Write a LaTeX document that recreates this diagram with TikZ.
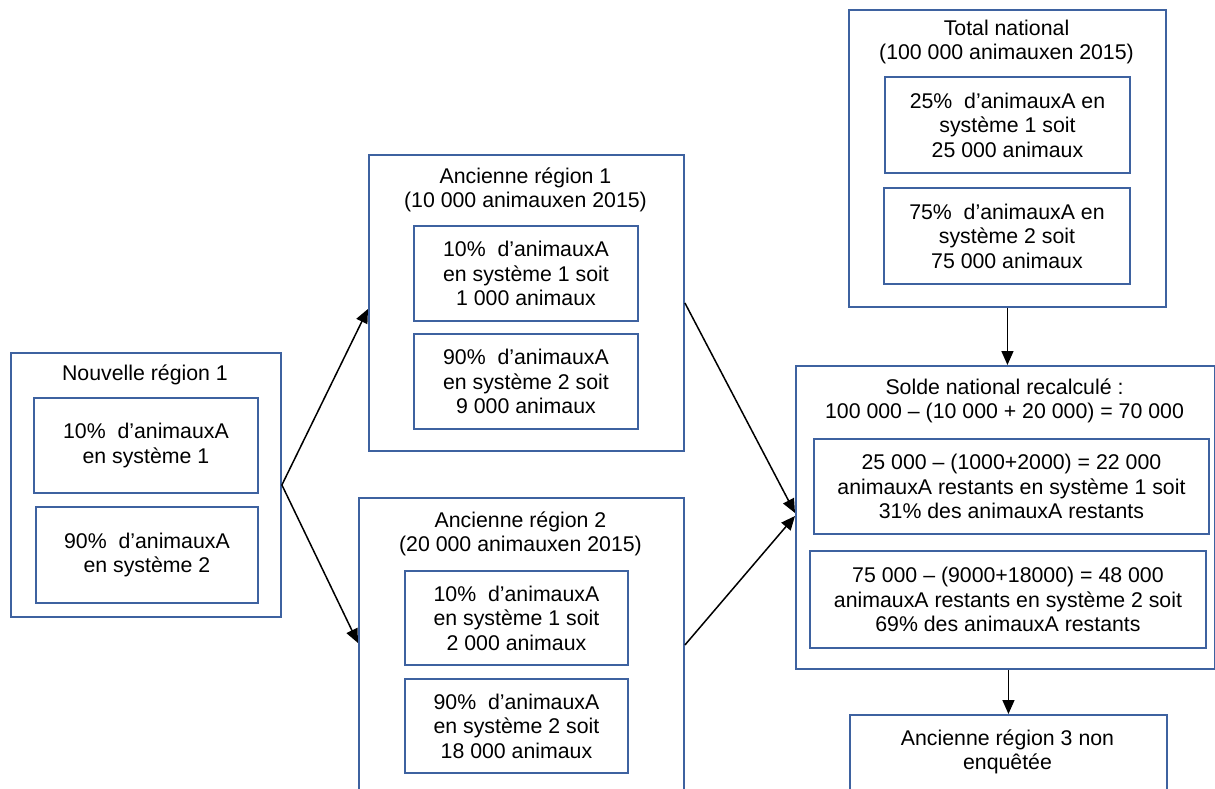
\documentclass[tikz,border=0pt]{standalone}
\usepackage{fontspec}
\setmainfont{Liberation Sans}
\usetikzlibrary{arrows.meta}
\definecolor{boxblue}{RGB}{62,98,160}
\tikzset{
  box/.style={draw=boxblue, line width=1.9pt, rectangle, anchor=north west, inner sep=0pt},
  txt/.style={align=center, inner sep=0pt, font=\fontsize{21.3}{24.5}\selectfont},
  conn/.style={line width=1.5pt, -{Triangle[length=14pt,width=12pt]}}
}
\begin{document}
\begin{tikzpicture}[x=1pt,y=-1pt]
\useasboundingbox (0,0) rectangle (1215,789);
% Nouvelle region 1
\node[box, minimum width=270pt, minimum height=264pt] (n1) at (10,352) {};
\node[txt] (n1t) at (145,375) {Nouvelle région 1};
\node[box, minimum width=224pt, minimum height=95pt] (n1a) at (33,397) {};
\node[txt] (n1at) at (n1a.center) {10\%\ \ d’animauxA\\en système 1};
\node[box, minimum width=222pt, minimum height=96pt] (n1b) at (35,506) {};
\node[txt] (n1bt) at (n1b.center) {90\%\ \ d’animauxA\\en système 2};
% Ancienne region 1
\node[box, minimum width=315pt, minimum height=296pt] (a1) at (368,154) {};
\node[txt] (a1t) at (525.5,190) {Ancienne région 1\\(10 000 animauxen 2015)};
\node[box, minimum width=224pt, minimum height=95pt] (a1a) at (413,225) {};
\node[txt] (a1at) at (a1a.center) {10\%\ \ d’animauxA\\en système 1 soit\\1 000 animaux};
\node[box, minimum width=224pt, minimum height=95pt] (a1b) at (413,333) {};
\node[txt] (a1bt) at (a1b.center) {90\%\ \ d’animauxA\\en système 2 soit\\9 000 animaux};
% Ancienne region 2
\node[box, minimum width=325pt, minimum height=310pt] (a2) at (358,497) {};
\node[txt] (a2t) at (520.5,534) {Ancienne région 2\\(20 000 animauxen 2015)};
\node[box, minimum width=223pt, minimum height=94pt] (a2a) at (404,570) {};
\node[txt] (a2at) at (a2a.center) {10\%\ \ d’animauxA\\en système 1 soit\\2 000 animaux};
\node[box, minimum width=223pt, minimum height=94pt] (a2b) at (404,678) {};
\node[txt] (a2bt) at (a2b.center) {90\%\ \ d’animauxA\\en système 2 soit\\18 000 animaux};
% Total national
\node[box, minimum width=317pt, minimum height=297pt] (t) at (848,9) {};
\node[txt] (tt) at (1006.5,42) {Total national\\(100 000 animauxen 2015)};
\node[box, minimum width=245pt, minimum height=96pt] (ta) at (884,76) {};
\node[txt] (tat) at (ta.center) {25\%\ \ d’animauxA en\\système 1 soit\\25 000 animaux};
\node[box, minimum width=246pt, minimum height=96pt] (tb) at (883,187) {};
\node[txt] (tbt) at (tb.center) {75\%\ \ d’animauxA en\\système 2 soit\\75 000 animaux};
% Solde national
\node[box, minimum width=419pt, minimum height=303pt] (s) at (795,365) {};
\node[txt] (st) at (1004.5,401) {Solde national recalculé :\\100 000 – (10 000 + 20 000) = 70 000};
\node[box, minimum width=395pt, minimum height=95pt] (sa) at (813,438) {};
\node[txt] (sat) at (sa.center) {25 000 – (1000+2000) = 22 000\\animauxA restants en système 1 soit\\31\% des animauxA restants};
\node[box, minimum width=396pt, minimum height=97pt] (sb) at (809,550) {};
\node[txt] (sbt) at (sb.center) {75 000 – (9000+18000) = 48 000\\animauxA restants en système 2 soit\\69\% des animauxA restants};
% Ancienne region 3
\node[box, minimum width=317pt, minimum height=110pt] (r3) at (849,714) {};
\node[txt] (r3t) at (1007.5,752) {Ancienne région 3 non\\enquêtée};
% connectors
\draw[conn] (n1.east) -- ([yshift=-6pt]a1.west);
\draw[conn] (n1.east) -- ([yshift=-146pt]a2.north west);
\draw[conn] (a1.east) -- ([yshift=-148pt]s.north west);
\draw[conn] ([yshift=-148pt]a2.north east) -- ([yshift=-151pt]s.north west);
\draw[conn] (t.south) -- (t.south |- s.north);
\draw[conn] (r3.north |- s.south) -- (r3.north);
\end{tikzpicture}
\end{document}
